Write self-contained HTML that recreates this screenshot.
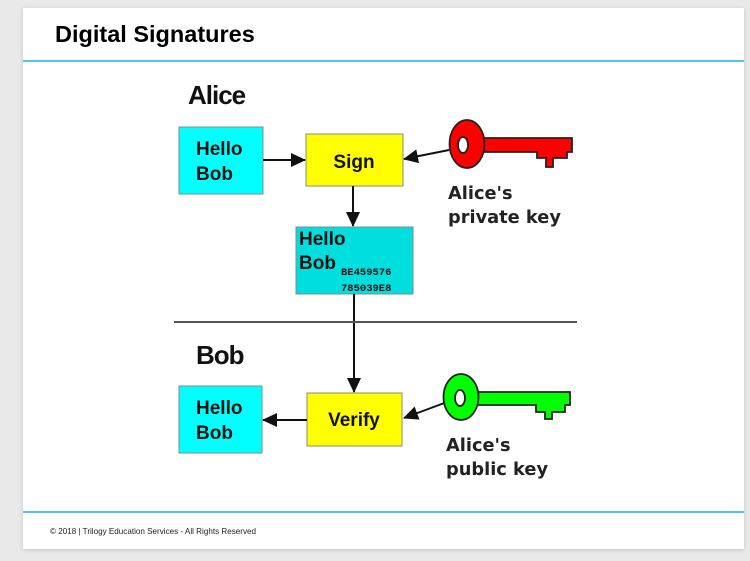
<!DOCTYPE html>
<html><head><meta charset="utf-8"><style>
html,body{margin:0;padding:0;width:750px;height:561px;background:#e9e9e9;overflow:hidden;font-family:"Liberation Sans",sans-serif}
</style></head><body>
<svg width="750" height="561" viewBox="0 0 750 561" xmlns="http://www.w3.org/2000/svg" style="position:absolute;left:0;top:0">
<defs><filter id="sh" x="-5%" y="-5%" width="110%" height="110%"><feDropShadow dx="0" dy="1" stdDeviation="2" flood-color="#000" flood-opacity="0.15"/></filter>
<marker id="ah" markerWidth="15" markerHeight="14" refX="14" refY="7" orient="auto" markerUnits="userSpaceOnUse"><path d="M0,0 L15,7 L0,14 z" fill="#111"/></marker></defs>
<rect x="23" y="8" width="721" height="541" fill="#fff" filter="url(#sh)"/>
<text x="55" y="42" font-size="23.5" font-weight="bold" fill="#000">Digital Signatures</text>
<rect x="23" y="60" width="721" height="2" fill="#4dc6ea"/>
<rect x="23" y="511" width="721" height="2" fill="#4dc6ea"/>
<text x="50" y="534" font-size="8.1" fill="#222">© 2018 | Trilogy Education Services - All Rights Reserved</text>

<g font-weight="bold" fill="#111">
<text x="188" y="104" font-size="26" style="letter-spacing:-1px">Alice</text>
<text x="196" y="364" font-size="26" style="letter-spacing:-1px">Bob</text>
</g>
<rect x="179" y="127" width="84" height="67" fill="#00ffff" stroke="#888" stroke-width="1"/>
<text x="196" y="155" font-size="19" font-weight="bold" fill="#111">Hello</text>
<text x="196" y="180" font-size="19" font-weight="bold" fill="#111">Bob</text>
<rect x="306" y="134" width="97" height="52" fill="#ffff00" stroke="#888"/>
<text x="354" y="168" font-size="19" font-weight="bold" fill="#111" text-anchor="middle">Sign</text>
<line x1="263" y1="160" x2="305" y2="160" stroke="#111" stroke-width="2" marker-end="url(#ah)"/>
<line x1="449" y1="150" x2="404" y2="159" stroke="#111" stroke-width="2" marker-end="url(#ah)"/>
<line x1="353" y1="186" x2="353" y2="226" stroke="#111" stroke-width="2" marker-end="url(#ah)"/>
<g stroke="#222" stroke-width="1.8">
<path d="M484,138 L572,138 L572,152 L567,152 L567,158 L553,158 L553,167 L546,167 L546,158 L537,158 L537,152 L484,152 z" fill="#ff0000"/>
<ellipse cx="467" cy="144" rx="17.5" ry="24" fill="#ff0000"/>
<ellipse cx="463" cy="145" rx="5" ry="8" fill="#fff"/>
</g>
<g font-family="DejaVu Sans, sans-serif" font-weight="bold" fill="#222" font-size="17.8">
<text x="448" y="199">Alice's</text>
<text x="448" y="223">private key</text>
<text x="446" y="451">Alice's</text>
<text x="446" y="475">public key</text>
</g>
<rect x="296" y="227" width="117" height="67" fill="#00dede" stroke="#888"/>
<text x="299" y="245" font-size="19" font-weight="bold" fill="#111">Hello</text>
<text x="299" y="269" font-size="19" font-weight="bold" fill="#111">Bob</text>
<text x="341" y="275" font-size="10.5" font-weight="bold" fill="#111" font-family="Liberation Mono,monospace">BE459576</text>
<text x="341" y="291" font-size="10.5" font-weight="bold" fill="#111" font-family="Liberation Mono,monospace">785039E8</text>
<line x1="354" y1="294" x2="354" y2="392" stroke="#111" stroke-width="2" marker-end="url(#ah)"/>
<line x1="174" y1="322" x2="577" y2="322" stroke="#555" stroke-width="2"/>
<rect x="179" y="386" width="83" height="67" fill="#00ffff" stroke="#888"/>
<text x="196" y="414" font-size="19" font-weight="bold" fill="#111">Hello</text>
<text x="196" y="439" font-size="19" font-weight="bold" fill="#111">Bob</text>
<rect x="307" y="393" width="95" height="53" fill="#ffff00" stroke="#888"/>
<text x="354" y="426" font-size="19" font-weight="bold" fill="#111" text-anchor="middle">Verify</text>
<line x1="307" y1="420" x2="263" y2="420" stroke="#111" stroke-width="2" marker-end="url(#ah)"/>
<line x1="447" y1="402" x2="404" y2="418" stroke="#111" stroke-width="2" marker-end="url(#ah)"/>
<g stroke="#222" stroke-width="1.8">
<path d="M477,392 L570,392 L570,405 L565,405 L565,412 L552,412 L552,419 L545,419 L545,412 L536,412 L536,405 L477,405 z" fill="#00ff00"/>
<ellipse cx="461" cy="397" rx="17.5" ry="23" fill="#00ff00"/>
<ellipse cx="460" cy="398" rx="5" ry="8" fill="#fff"/>
</g>
</svg>
</body></html>
